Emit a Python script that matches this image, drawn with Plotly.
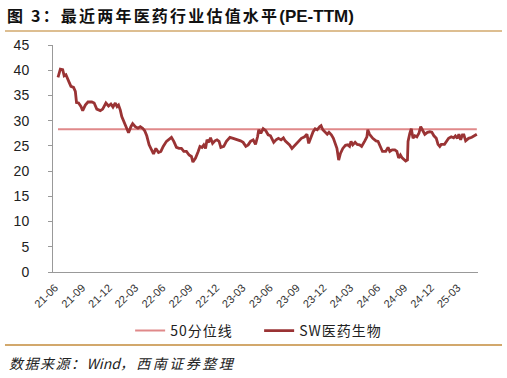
import plotly.graph_objects as go

dates = [
    "2021-06-11", "2021-06-19", "2021-06-27", "2021-07-02", "2021-07-08", "2021-07-14", "2021-07-19", "2021-07-25",
    "2021-08-03", "2021-08-09", "2021-08-13", "2021-08-20", "2021-08-28", "2021-09-03", "2021-09-12", "2021-09-21",
    "2021-10-04", "2021-10-12", "2021-10-21", "2021-11-02", "2021-11-10", "2021-11-21", "2021-11-30", "2021-12-08",
    "2021-12-15", "2021-12-23", "2021-12-29", "2022-01-03", "2022-01-09", "2022-01-14", "2022-01-24", "2022-01-31",
    "2022-02-06", "2022-02-14", "2022-02-20", "2022-03-01", "2022-03-10", "2022-03-18", "2022-03-26", "2022-04-02",
    "2022-04-09", "2022-04-17", "2022-04-26", "2022-05-02", "2022-05-10", "2022-05-19", "2022-05-27", "2022-06-04",
    "2022-06-15", "2022-06-27", "2022-07-02", "2022-07-10", "2022-07-19", "2022-07-28", "2022-08-05", "2022-08-13",
    "2022-08-22", "2022-08-31", "2022-09-08", "2022-09-13", "2022-09-22", "2022-10-01", "2022-10-07", "2022-10-14",
    "2022-10-20", "2022-10-26", "2022-10-31", "2022-11-06", "2022-11-12", "2022-11-19", "2022-11-27", "2022-12-04",
    "2022-12-11", "2022-12-17", "2022-12-27", "2023-01-05", "2023-01-17", "2023-01-28", "2023-02-10", "2023-02-22",
    "2023-03-03", "2023-03-12", "2023-03-20", "2023-03-28", "2023-04-06", "2023-04-14", "2023-04-21", "2023-04-25",
    "2023-05-02", "2023-05-10", "2023-05-19", "2023-05-27", "2023-06-04", "2023-06-08", "2023-06-15", "2023-06-23",
    "2023-07-01", "2023-07-10", "2023-07-18", "2023-07-24", "2023-07-31", "2023-08-08", "2023-08-16", "2023-08-23",
    "2023-08-31", "2023-09-08", "2023-09-17", "2023-09-28", "2023-10-06", "2023-10-12", "2023-10-19", "2023-10-27",
    "2023-11-03", "2023-11-10", "2023-11-18", "2023-11-23", "2023-11-29", "2023-12-07", "2023-12-14", "2023-12-20",
    "2023-12-28", "2024-01-04", "2024-01-11", "2024-01-16", "2024-01-22", "2024-01-28", "2024-02-05", "2024-02-14",
    "2024-02-22", "2024-02-28", "2024-03-04", "2024-03-10", "2024-03-18", "2024-03-25", "2024-04-02", "2024-04-09",
    "2024-04-19", "2024-04-27", "2024-04-30", "2024-05-06", "2024-05-17", "2024-05-28", "2024-06-04", "2024-06-12",
    "2024-06-19", "2024-06-30", "2024-07-08", "2024-07-14", "2024-07-22", "2024-07-31", "2024-08-07", "2024-08-13",
    "2024-08-19", "2024-08-24", "2024-08-30", "2024-09-06", "2024-09-12", "2024-09-14", "2024-09-20", "2024-09-25",
    "2024-10-01", "2024-10-07", "2024-10-14", "2024-10-21", "2024-10-27", "2024-11-02", "2024-11-10", "2024-11-19",
    "2024-11-27", "2024-12-04", "2024-12-11", "2024-12-19", "2024-12-25", "2024-12-31", "2025-01-05", "2025-01-16",
    "2025-01-22", "2025-01-30", "2025-02-08", "2025-02-16", "2025-02-22", "2025-03-01", "2025-03-06", "2025-03-12",
    "2025-03-18", "2025-03-23", "2025-03-29", "2025-04-08", "2025-04-19", "2025-04-28", "2025-05-06",
]

pe_ttm = [
    38.6, 40.2, 40.1, 38.9, 39.1, 38.1, 37.6, 36.8,
    36.6, 35.8, 33.6, 33.5, 32.8, 32.0, 33.1, 33.7,
    33.7, 33.5, 32.3, 32.0, 32.3, 33.5, 32.9, 33.3,
    32.7, 33.5, 32.8, 33.1, 32.1, 30.8, 29.5, 28.5,
    27.6, 28.8, 29.4, 28.8, 28.5, 28.8, 28.5, 28.0,
    27.0, 25.2, 24.1, 23.4, 24.5, 23.7, 23.9, 24.9,
    25.9, 26.5, 26.7, 25.9, 24.7, 24.5, 24.5, 23.9,
    23.9, 23.2, 22.9, 21.8, 22.6, 23.9, 24.9, 24.7,
    25.2, 24.5, 26.2, 25.7, 26.6, 25.5, 26.0, 26.2,
    25.9, 24.7, 24.9, 25.9, 26.7, 26.5, 26.3, 26.0,
    25.7, 24.9, 25.2, 25.9, 26.2, 25.3, 26.8, 28.2,
    27.5, 28.4, 28.0, 27.2, 27.0, 26.5, 25.7, 26.2,
    26.5, 26.2, 26.6, 26.0, 25.7, 25.2, 24.5, 24.9,
    25.5, 26.0, 26.5, 26.8, 27.3, 25.5, 26.5, 27.8,
    28.4, 28.2, 28.8, 29.0, 28.2, 27.7, 27.3, 27.7,
    27.2, 26.5, 25.3, 24.5, 22.2, 23.5, 24.5, 25.1,
    25.2, 24.9, 25.9, 25.2, 25.7, 25.3, 25.2, 24.9,
    25.9, 26.8, 28.2, 27.3, 26.5, 26.0, 25.9, 24.9,
    23.9, 23.9, 24.7, 23.9, 24.2, 24.2, 23.9, 22.6,
    23.2, 22.7, 22.4, 22.0, 22.2, 25.9, 27.5, 28.4,
    26.5, 27.0, 26.8, 27.5, 28.8, 28.2, 27.3, 27.7,
    27.8, 27.7, 27.0, 26.5, 25.3, 24.9, 25.3, 25.3,
    25.9, 26.5, 26.8, 26.6, 27.0, 26.5, 27.3, 26.2,
    27.2, 27.2, 26.0, 26.5, 26.7, 27.0, 27.3,
]

p50_value = 28.3

tick_dates = ["2021-06-01", "2021-09-01", "2021-12-01", "2022-03-01", "2022-06-01", "2022-09-01",
              "2022-12-01", "2023-03-01", "2023-06-01", "2023-09-01", "2023-12-01", "2024-03-01",
              "2024-06-01", "2024-09-01", "2024-12-01", "2025-03-01"]
tick_labels = ["21-06", "21-09", "21-12", "22-03", "22-06", "22-09", "22-12", "23-03",
               "23-06", "23-09", "23-12", "24-03", "24-06", "24-09", "24-12", "25-03"]
y_ticks = [0, 5, 10, 15, 20, 25, 30, 35, 40, 45]

series_names = ["50分位线", "SW医药生物"]

FONT = "Liberation Sans, Arial, Noto Sans CJK SC, sans-serif"
CJK = "Noto Sans CJK SC, Liberation Sans, sans-serif"


def spaced(txt, px):
    return '<span style="letter-spacing:%spx">%s</span>' % (px, txt)


fig = go.Figure()
fig.add_trace(go.Scatter(
    x=dates, y=[p50_value] * len(dates), mode="lines", name=spaced(series_names[0], 1),
    line=dict(color="#E0898A", width=2),
))
fig.add_trace(go.Scatter(
    x=dates, y=pe_ttm, mode="lines", name=spaced(series_names[1], 1),
    line=dict(color="#9A3334", width=2.8),
))

fig.update_layout(
    width=507, height=378,
    margin=dict(l=53, r=29, t=45, b=106),
    paper_bgcolor="white", plot_bgcolor="white",
    font=dict(family=FONT, size=13, color="#222"),
    showlegend=True,
    legend=dict(orientation="h", x=0.485, xanchor="center", y=-0.26, yanchor="middle",
                font=dict(family=CJK, size=14, color="#222"), itemwidth=30,
                entrywidth=84, entrywidthmode="pixels",
                bgcolor="rgba(0,0,0,0)"),
    title=dict(
        text="<b>" + spaced("图 3：最近两年医药行业估值水平", 2.2)
             + '<span style="font-family:Liberation Sans;font-size:17px">(PE-TTM)</span></b>',
        x=7 / 507, xanchor="left", xref="container",
        y=1 - 16 / 378, yanchor="middle", yref="container",
        font=dict(family=CJK, size=16, color="#111"),
    ),
    xaxis=dict(
        type="date", range=["2021-05-25", "2025-05-10"],
        tickvals=tick_dates, ticktext=tick_labels, tickangle=-45,
        showgrid=False, zeroline=False, showline=True, linecolor="#999", linewidth=1,
        ticks="", tickfont=dict(size=11, color="#333"), ticklabelstandoff=4,
    ),
    yaxis=dict(
        range=[0, 45], tickvals=y_ticks, showgrid=False, zeroline=False,
        showline=True, linecolor="#999", linewidth=1,
        ticks="outside", ticklen=4, tickcolor="#999",
        tickfont=dict(size=14, color="#222"), ticklabelstandoff=16,
    ),
    shapes=[
        dict(type="line", xref="paper", yref="paper", x0=-0.113, x1=1.0565, y0=1.0617, y1=1.0617,
             line=dict(color="#D2A86C", width=1.5)),
        dict(type="line", xref="paper", yref="paper", x0=-0.113, x1=1.0565, y0=-0.3216, y1=-0.3216,
             line=dict(color="#D2A86C", width=2)),
    ],
    annotations=[
        dict(text="<i>" + spaced("数据来源：", 1.5) + "Wind" + spaced("，西南证券整理", 2.5) + "</i>",
             xref="paper", yref="paper", x=-0.108, y=-0.401, xanchor="left", yanchor="middle",
             showarrow=False, font=dict(family=CJK, size=14, color="#222")),
    ],
)

fig.write_html("out.html", config={"displayModeBar": False},
               post_script="document.body.style.margin='0px';")
